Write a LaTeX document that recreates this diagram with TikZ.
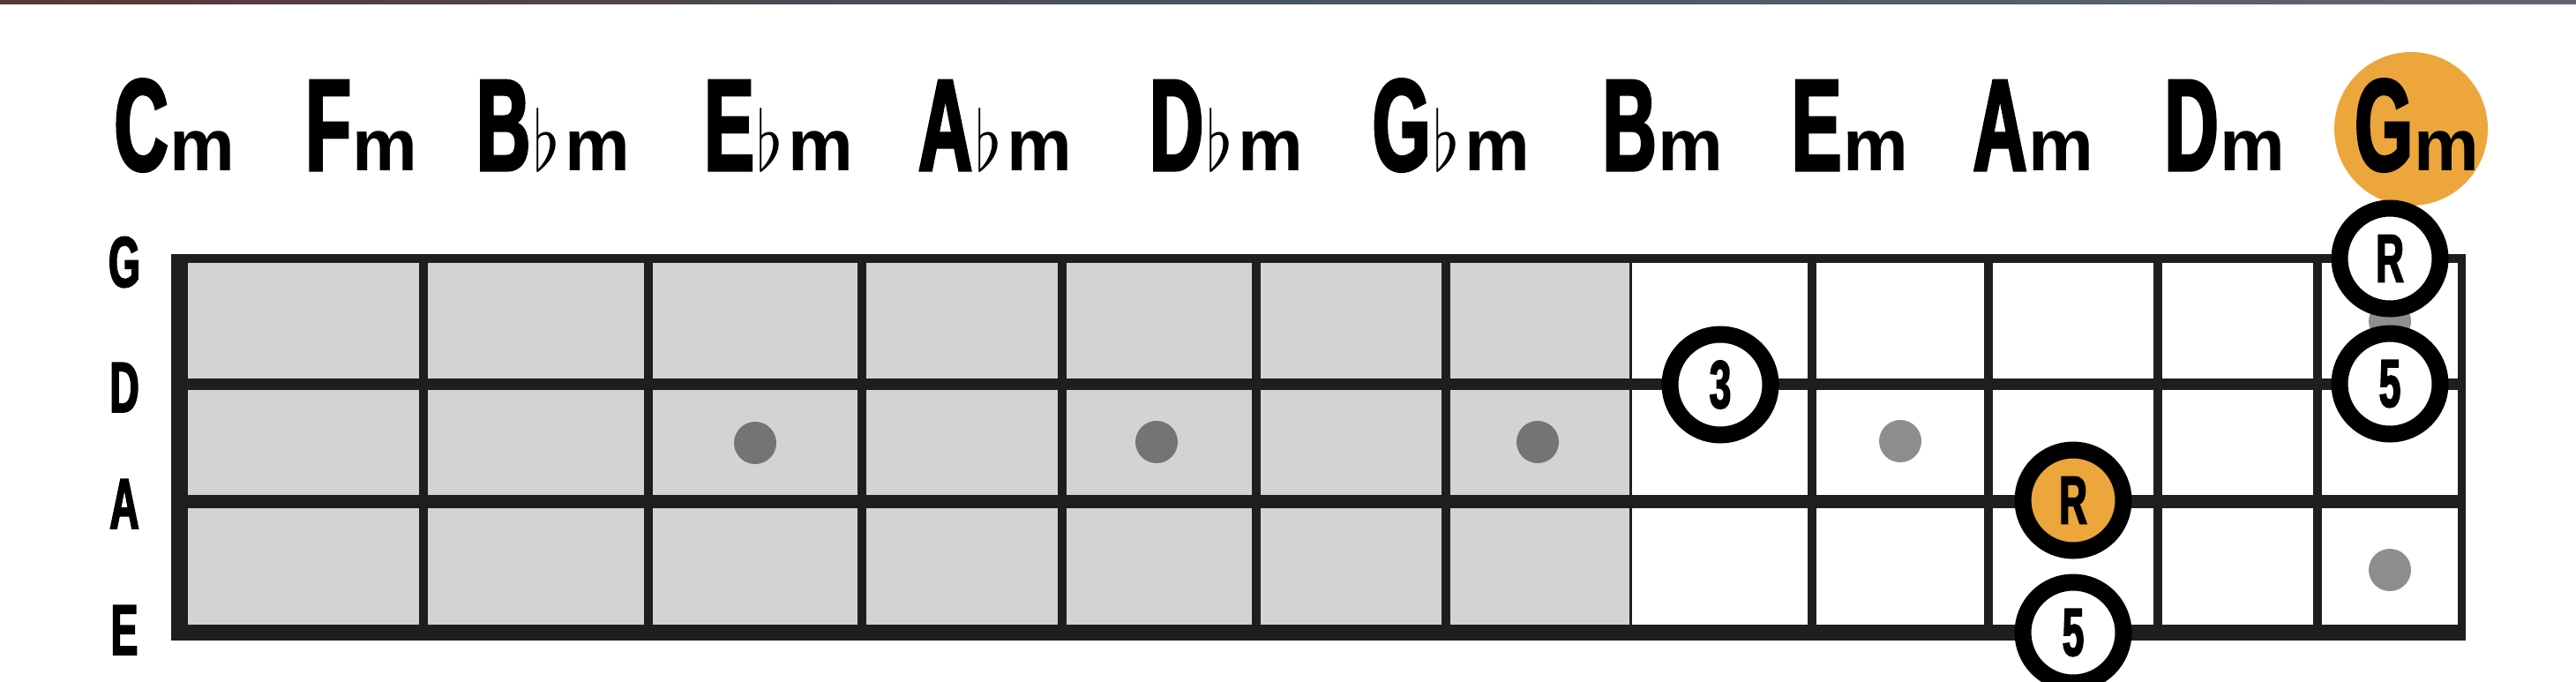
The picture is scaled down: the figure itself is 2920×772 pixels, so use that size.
\documentclass[tikz,border=0pt]{standalone}
\usepackage{fontspec}
\usepackage{graphicx}
\newfontfamily\capfam[FakeStretch=0.57,FakeBold=2.2]{Liberation Sans Bold}
\newfontfamily\lowfam{Liberation Sans Bold}
\definecolor{ink}{RGB}{30,30,30}
\definecolor{fretgray}{RGB}{211,211,211}
\definecolor{dotdark}{RGB}{116,116,116}
\definecolor{dotlight}{RGB}{142,142,142}
\definecolor{accent}{RGB}{236,166,60}
\newcommand\chordcap{\capfam\fontsize{148}{150}\selectfont}
\newcommand\chordlow{\lowfam\fontsize{83}{85}\selectfont}
\newcommand\notefont{\capfam\fontsize{77}{80}\selectfont}
\newcommand\strfont{\capfam\fontsize{81}{84}\selectfont}
\newcommand\flt{\resizebox{30pt}{71pt}{$\flat$}}
\newcommand\chordm[1]{{\chordcap #1}\kern2pt{\chordlow m}}
\newcommand\chordfm[1]{{\chordcap #1}\kern3pt\flt\kern6pt{\chordlow m}}
\tikzset{
  chord/.style={anchor=base, inner sep=0pt, text=black},
  strlabel/.style={anchor=base, inner sep=0pt, font=\strfont, text=black},
  note/.style={circle, draw=black, line width=19pt, fill=white, minimum size=114pt, inner sep=0pt, font=\notefont, text=black},
  rootnote/.style={note, fill=accent},
  inlay/.style={circle, inner sep=0pt, minimum size=48pt},
}
\begin{document}
\begin{tikzpicture}[x=1pt,y=-1pt]
\useasboundingbox (0,0) rectangle (2920,772);
\fill[white] (0,0) rectangle (2920,772);
\shade[left color={rgb,255:red,90;green,55;blue,55}, right color={rgb,255:red,100;green,100;blue,112}, middle color={rgb,255:red,70;green,85;blue,100}] (0,0) rectangle (2920,4);

% chord names
\node[circle, fill=accent, minimum size=174pt, inner sep=0pt] (gmdisc) at (2733,146) {};
\node[chord] (cm)  at (198,193)  {\chordm{C}};
\node[chord] (fm)  at (410,193)  {\chordm{F}};
\node[chord] (bbm) at (627,193)  {\chordfm{B}};
\node[chord] (ebm) at (883,193)  {\chordfm{E}};
\node[chord] (abm) at (1128,193) {\chordfm{A}};
\node[chord] (dbm) at (1390,193) {\chordfm{D}};
\node[chord] (gbm) at (1645,193) {\chordfm{G}};
\node[chord] (bm)  at (1885,193) {\chordm{B}};
\node[chord] (em)  at (2097,193) {\chordm{E}};
\node[chord] (am)  at (2305,193) {\chordm{A}};
\node[chord] (dm)  at (2522,193) {\chordm{D}};
\node[chord] (gm)  at (2740,193) {\chordm{G}};

% string names
\node[strlabel] (sg) at (141,325) {G};
\node[strlabel] (sd) at (141,467) {D};
\node[strlabel] (sa) at (141,599) {A};
\node[strlabel] (se) at (141,742) {E};

% fretboard
\fill[fretgray] (194,288) rectangle (1848,726);
\node[inlay, fill=dotdark]  (i3)  at (856,502) {};
\node[inlay, fill=dotdark]  (i5)  at (1311,501) {};
\node[inlay, fill=dotdark]  (i7)  at (1743,501) {};
\node[inlay, fill=dotlight] (i9)  at (2154,500) {};
\node[inlay, fill=dotlight] (i12a) at (2709,364) {};
\node[inlay, fill=dotlight] (i12b) at (2709,646) {};

\fill[ink] (194,288) rectangle (2795,298);
\fill[ink] (194,429) rectangle (2795,442);
\fill[ink] (194,561) rectangle (2795,576);
\fill[ink] (194,708) rectangle (2795,726);
\foreach \fx in {480,735,977,1204,1424,1639,2054,2254,2446,2627}
  \draw[ink, line width=9.6pt] (\fx,288) -- (\fx,726);
\fill[ink] (194,288) rectangle (212.5,726);
\fill[ink] (2786,288) rectangle (2795,726);
\draw[ink, line width=3pt] (1848,288) -- (1848,722);

% notes
\node[note] (n3) at (1950,436) {3};
\node[note] (nr) at (2709,293) {R};
\node[note] (n5a) at (2709,435) {5};
\node[rootnote] (root) at (2350,567) {R};
\node[note] (n5b) at (2350,717) {5};
\end{tikzpicture}
\end{document}
